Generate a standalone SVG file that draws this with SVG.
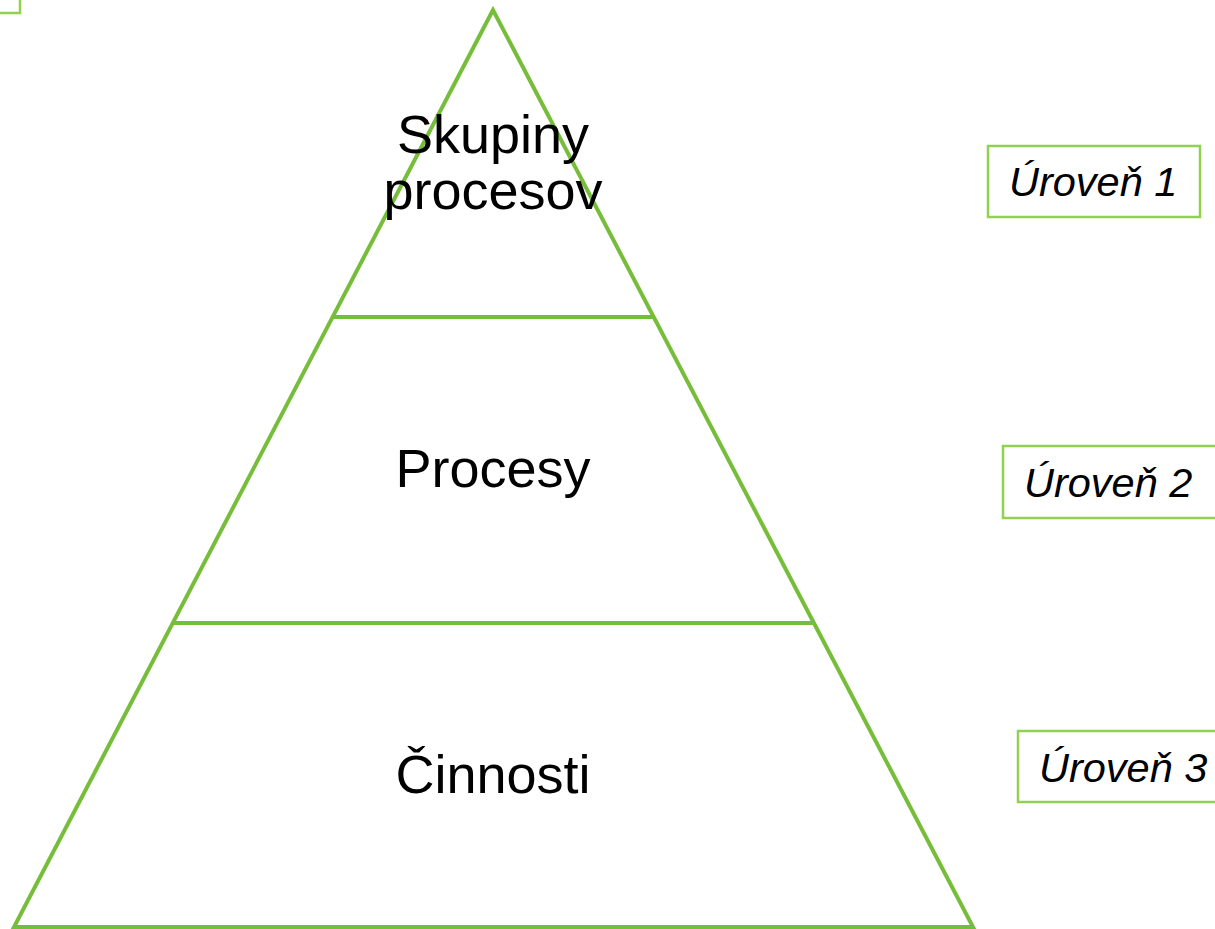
<svg xmlns="http://www.w3.org/2000/svg" width="1215" height="929" viewBox="0 0 1215 929">
<style>
.tri{fill:none;stroke:#76BE3A;stroke-width:4;stroke-linejoin:miter}
.div{stroke:#76BE3A;stroke-width:4}
.box{fill:#fff;stroke:#92D050;stroke-width:2.5}
.main{font-family:"Liberation Sans",Arial,sans-serif;font-size:54px;fill:#000;text-anchor:middle}
.lvl{font-family:"Liberation Sans",Arial,sans-serif;font-size:41.5px;font-style:italic;fill:#000}
</style>
<rect width="1215" height="929" fill="#fff"/>
<g id="corner"><rect x="-10" y="-10" width="30" height="23" class="box"/></g>
<g id="pyramid">
<polygon class="tri" points="493,10 14,927 973,927"/>
</g>
<g id="connectors">
<line class="div" x1="333" y1="317" x2="653" y2="317"/>
<line class="div" x1="173" y1="623" x2="813" y2="623"/>
</g>
<g id="level1-node"><text class="main" x="493" y="153">Skupiny</text><text class="main" x="493" y="209">procesov</text></g>
<g id="level2-node"><text class="main" x="493" y="487">Procesy</text></g>
<g id="level3-node"><text class="main" x="493" y="793">Činnosti</text></g>
<g id="label1"><rect class="box" x="988" y="146" width="212" height="71"/><text class="lvl" x="1009" y="196">Úroveň  1</text></g>
<g id="label2"><rect class="box" x="1003" y="446" width="222" height="72"/><text class="lvl" x="1024" y="497">Úroveň 2</text></g>
<g id="label3"><rect class="box" x="1018" y="731" width="207" height="71"/><text class="lvl" x="1039" y="782">Úroveň 3</text></g>
</svg>
